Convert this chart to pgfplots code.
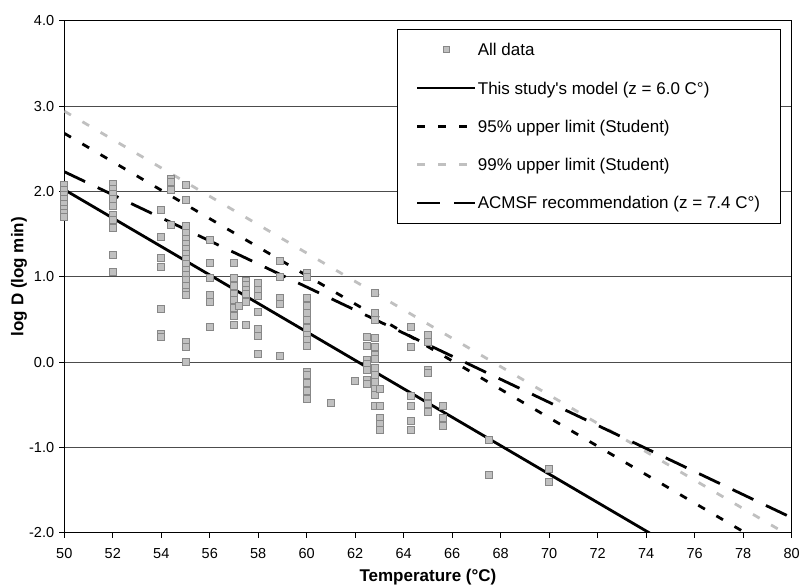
\documentclass[border=0pt]{standalone}
\usepackage{pgfplots}
\pgfplotsset{compat=1.18}
\usepackage{fontspec}
\setmainfont{Liberation Sans}
\definecolor{mkfill}{RGB}{192,192,192}
\definecolor{mkdraw}{RGB}{135,135,135}
\definecolor{lgray}{RGB}{192,192,192}
\pgfplotsset{
  markleg/.style={legend image code/.code={\draw[##1,mark size=3.1pt] plot coordinates {(29pt,0pt)};}},
  lineleg/.style={legend image code/.code={\draw[##1] (0pt,0pt) -- (58pt,0pt);}},
}
\begin{document}
\begin{tikzpicture}
\begin{axis}[
  scale only axis, width=727.3pt, height=512pt,
  xmin=50, xmax=80, ymin=-2, ymax=4,
  xtick={50,52,...,80}, ytick={-2,-1,...,4},
  xtick pos=left, ytick pos=left,
  ymajorgrids, grid style={black!70, line width=0.8pt},
  axis line style={black, line width=1pt},
  tick align=outside, major tick length=5pt, tick style={black, line width=0.8pt},
  /pgf/number format/assume math mode=true,
  xticklabel style={/pgf/number format/fixed, /pgf/number format/precision=0, yshift=-10.5pt},
  yticklabel style={/pgf/number format/fixed, /pgf/number format/fixed zerofill, /pgf/number format/precision=1, xshift=-5pt},
  ticklabel style={font=\fontsize{14.5}{17}\selectfont, inner sep=0pt},
  xlabel={Temperature (°C)}, ylabel={log D (log min)},
  label style={font=\bfseries\fontsize{17}{20}\selectfont},
  xlabel style={at={(axis description cs:0.5,-0.0865)}, anchor=center},
  ylabel style={at={(axis description cs:-0.0623,0.5)}, anchor=center},
  legend cell align=left,
  legend style={at={(axis description cs:0.457,0.984)}, anchor=north west,
    draw=black, line width=0.8pt, fill=white, inner xsep=19pt, inner ysep=10.5pt,
    font=\fontsize{17}{20}\selectfont, row sep=18.3pt,
    nodes={inner sep=1pt, text height=15pt, text depth=3pt}},
]
\addplot[only marks, mark=square*, mark size=3.5pt,
  mark options={draw=mkdraw, fill=mkfill, line width=0.8pt}, markleg]
coordinates {
(50,2.07)(50,2.02)(50,1.96)(50,1.91)(50,1.85)(50,1.80)(50,1.75)(50,1.70)
(52,2.09)(52,2.03)(52,1.97)(52,1.91)(52,1.83)(52,1.72)(52,1.67)(52,1.57)(52,1.25)(52,1.06)
(54,1.78)(54,1.47)(54,1.22)(54,1.12)(54,0.62)(54,0.33)(54,0.30)
(54.4,2.15)(54.4,2.11)(54.4,2.02)(54.4,1.61)
(55,2.08)(55,1.90)(55,1.59)(55,1.51)(55,1.44)(55,1.38)(55,1.33)(55,1.27)(55,1.21)(55,1.15)
(55,1.08)(55,1.02)(55,0.96)(55,0.89)(55,0.82)(55,0.79)(55,0.24)(55,0.18)(55,0.00)
(56,1.43)(56,1.16)(56,0.98)(56,0.79)(56,0.71)(56,0.41)
(57,1.16)(57,0.99)(57,0.89)(57,0.80)(57,0.73)(57,0.63)(57,0.54)(57,0.44)
(57.2,0.66)
(57.5,0.95)(57.5,0.90)(57.5,0.85)(57.5,0.80)(57.5,0.70)(57.5,0.43)
(58,0.93)(58,0.85)(58,0.77)(58,0.59)(58,0.39)(58,0.31)(58,0.09)
(58.9,1.18)(58.9,1.00)(58.9,0.75)(58.9,0.68)(58.9,0.07)
(60,1.05)(60,1.00)(60,0.75)(60,0.66)(60,0.57)(60,0.49)(60,0.40)(60,0.32)(60,0.26)(60,0.19)
(60,-0.11)(60,-0.15)(60,-0.25)(60,-0.34)(60,-0.43)
(61,-0.48)
(62,-0.22)
(62.5,0.29)(62.5,0.19)(62.5,0.03)(62.5,-0.02)(62.5,-0.09)(62.5,-0.21)(62.5,-0.26)
(62.8,0.81)(62.8,0.57)(62.8,0.49)(62.8,0.28)(62.8,0.18)(62.8,0.08)(62.8,0.04)(62.8,-0.07)
(62.8,-0.15)(62.8,-0.23)(62.8,-0.31)(62.8,-0.39)(62.8,-0.51)
(63,-0.32)(63,-0.51)(63,-0.65)(63,-0.73)(63,-0.80)
(64.3,0.41)(64.3,0.18)(64.3,-0.40)(64.3,-0.52)(64.3,-0.69)(64.3,-0.79)
(65,0.32)(65,0.24)(65,-0.09)(65,-0.13)(65,-0.40)(65,-0.49)(65,-0.59)
(65.6,-0.52)(65.6,-0.66)(65.6,-0.75)
(67.5,-0.91)(67.5,-1.32)
(70,-1.25)(70,-1.41)
};
\addlegendentry{All data}
\addplot[black, line width=2.8pt, lineleg] coordinates {(50,2.02)(80,-2.98)};
\addlegendentry{This study\textquotesingle s model (z = 6.0 C°)}
\addplot[black, line width=2.8pt, dash pattern=on 7.7pt off 13.3pt, lineleg] coordinates {(50,2.68)(80,-2.32)};
\addlegendentry{95\% upper limit (Student)}
\addplot[lgray, line width=2.8pt, dash pattern=on 7.7pt off 13.3pt, lineleg] coordinates {(50,2.94)(80,-2.05)};
\addlegendentry{99\% upper limit (Student)}
\addplot[black, line width=2.8pt, dash pattern=on 23pt off 14pt, lineleg] coordinates {(50,2.23)(80,-1.824)};
\addlegendentry{ACMSF recommendation (z = 7.4 C°)}
\end{axis}
\pgfresetboundingbox
\useasboundingbox (-64.3pt,-52.3pt) rectangle (736.7pt,532.7pt);
\end{tikzpicture}
\end{document}
